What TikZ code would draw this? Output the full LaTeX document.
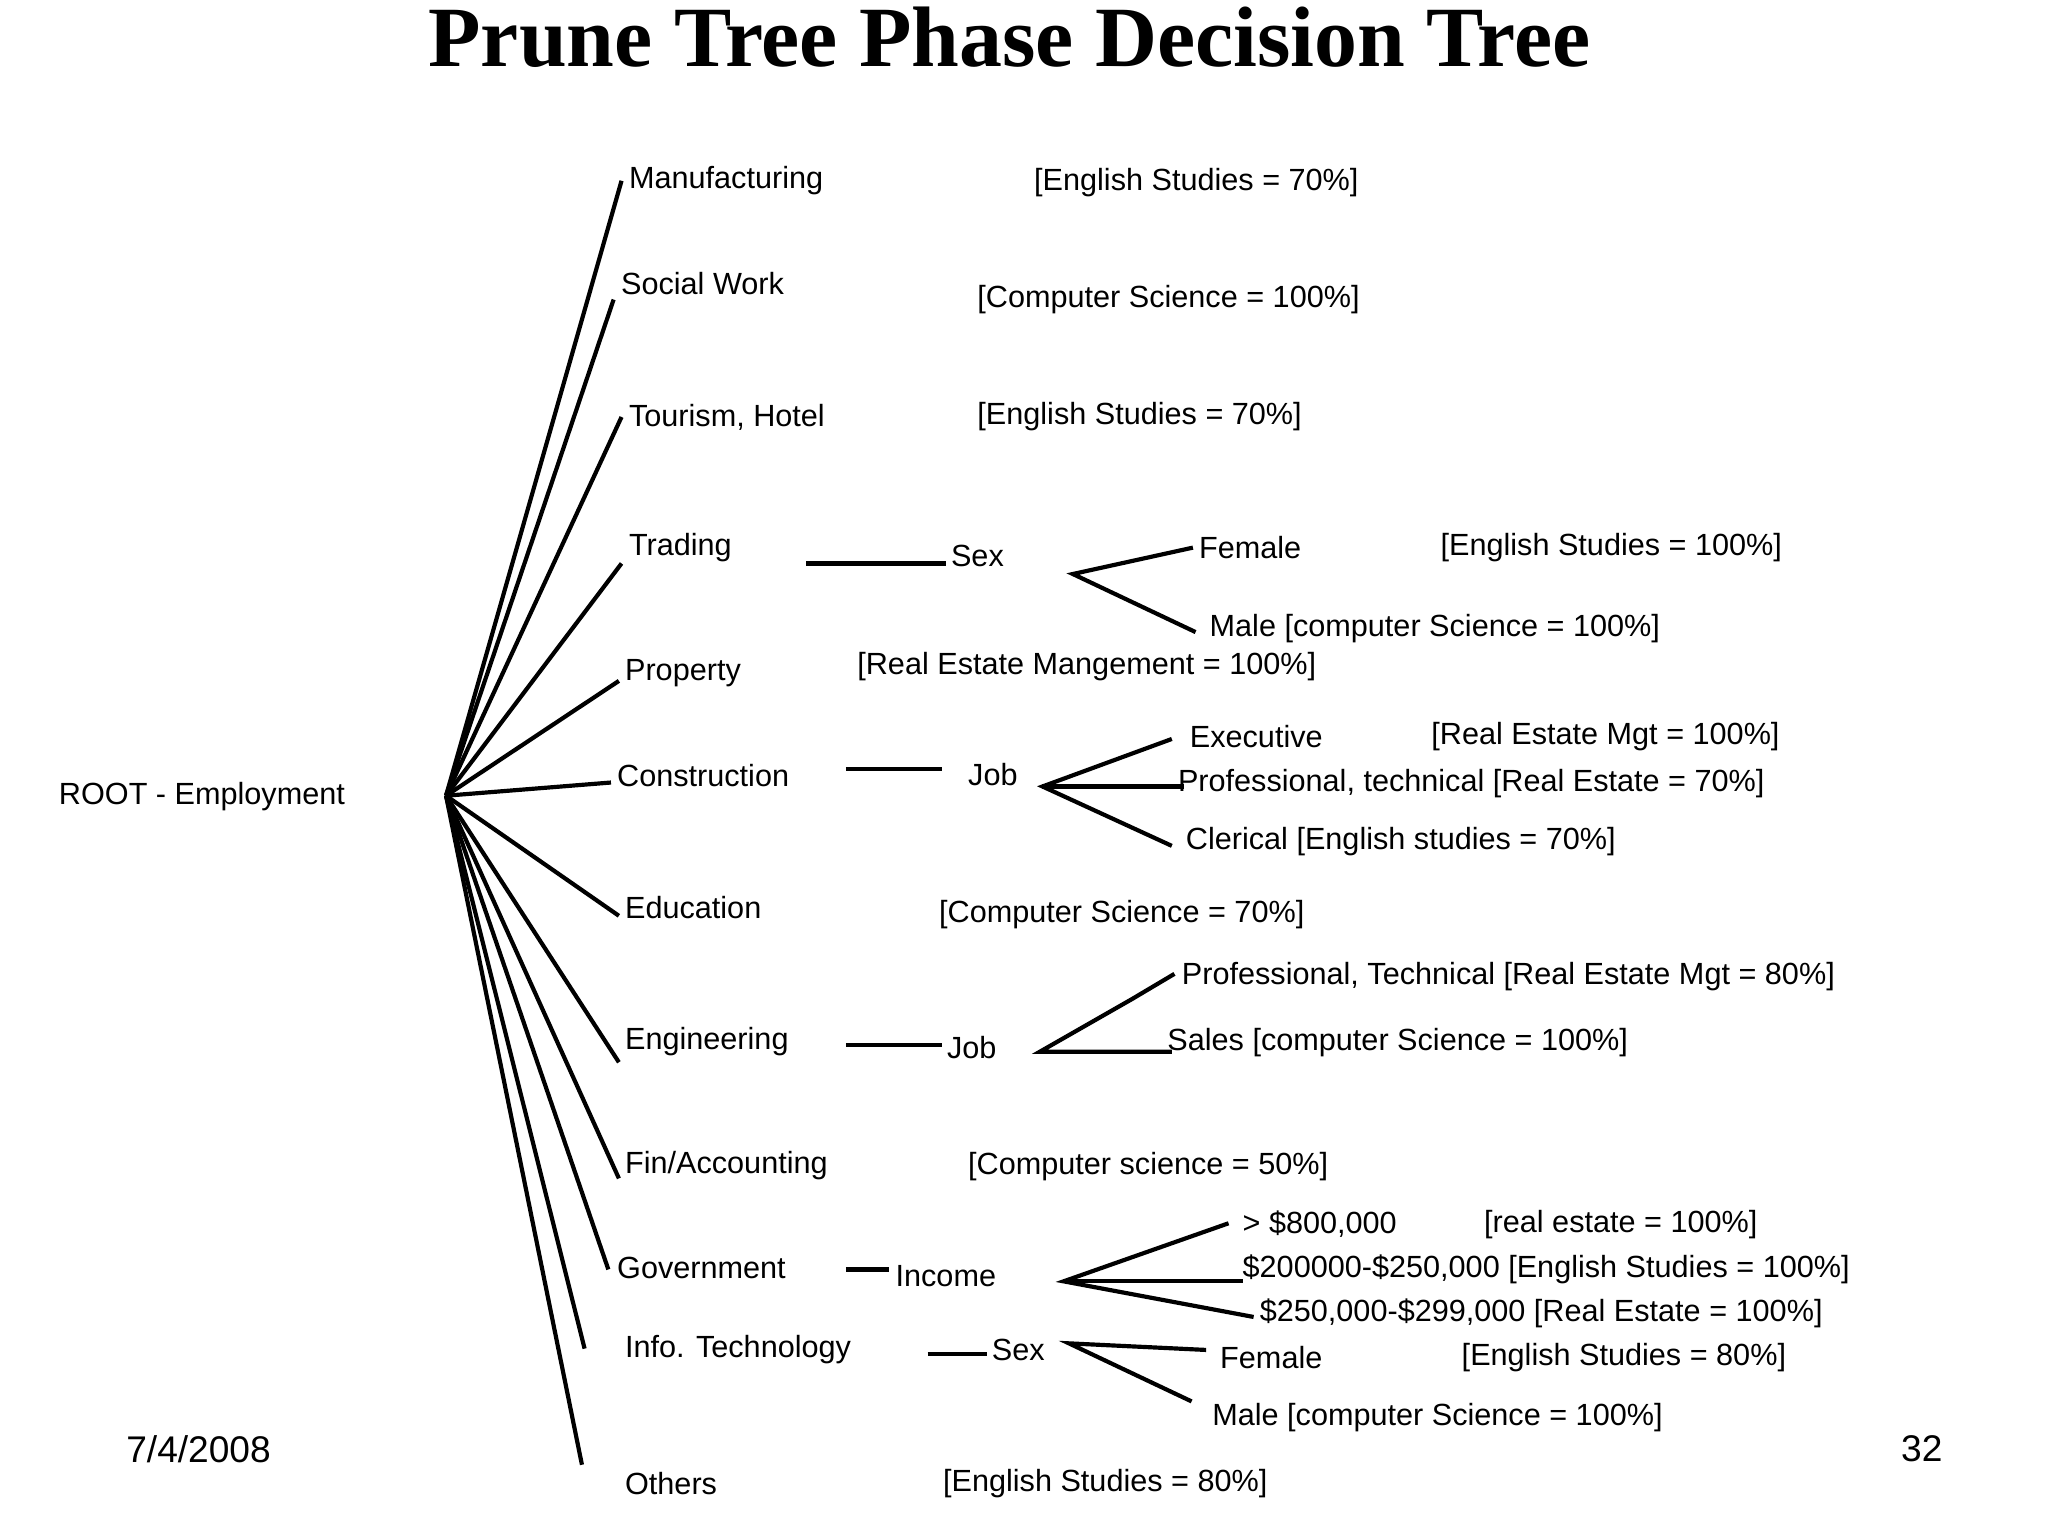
\documentclass[tikz,border=0pt]{standalone}
\usepackage{fontspec}
\setmainfont{Liberation Sans}
\newfontfamily\titlefont{Liberation Serif}
\begin{document}
\begin{tikzpicture}[x=0.01cm,y=-0.01cm,
  t/.style={anchor=west,inner sep=0pt,font=\fontsize{6.6}{7}\selectfont},
  ln/.style={line width=0.9pt}]
\useasboundingbox (0,0) rectangle (1552,1164);
\node[font=\titlefont\bfseries\fontsize{18.5}{20}\selectfont] (title) at (765,28) {Prune Tree Phase Decision Tree};
\node[t] (root) at (44,604) {ROOT - Employment};
\coordinate (r) at (338,603);
\foreach \n/\x/\y in {m/471/137,s/465/227,tu/471/316,tr/471/427,p/469/516,c/463/593,e/469/694,en/469/805,f/469/893,g/461/962,i/443/1022,o/441/1110}
  {\coordinate (\n) at (\x,\y); \draw[ln] (r) -- (\n);}
\node[t] (nm) at (476,137) {Manufacturing};
\node[t] at (783,138) {[English Studies = 70\%]};
\node[t] at (470,215) {Social Work};
\node[t] at (740,227) {[Computer Science = 100\%]};
\node[t] at (476,316) {Tourism, Hotel};
\node[t] at (740,316) {[English Studies = 70\%]};
% Trading
\node[t] at (476,415) {Trading};
\coordinate (tra) at (611,427); \coordinate (trb) at (717,427);
\draw[ln] (tra) -- (trb);
\node[t] at (720,421) {Sex};
\coordinate (sx) at (813,435); \coordinate (sx1) at (904,415); \coordinate (sx2) at (906,479);
\draw[ln] (sx1) -- (sx) -- (sx2);
\node[t] at (908,415) {Female};
\node[t] at (1091,415) {[English Studies = 100\%]};
\node[t] at (916,476) {Male [computer Science = 100\%]};
\node[t] at (473,510) {Property};
\node[t] at (649,505) {[Real Estate Mangement = 100\%]};
% Construction
\node[t] at (467,588) {Construction};
\coordinate (ca) at (641,583); \coordinate (cb) at (714,583);
\draw[ln] (ca) -- (cb);
\node[t] at (733,587) {Job};
\coordinate (j) at (790,596); \coordinate (j1) at (888,560); \coordinate (j2) at (897,596); \coordinate (j3) at (888,641);
\draw[ln] (j1) -- (j) -- (j3); \draw[ln] (j) -- (j2);
\node[t] at (901,558) {Executive};
\node[t] at (1084,558) {[Real Estate Mgt = 100\%]};
\node[t] at (892,594) {Professional, technical [Real Estate = 70\%]};
\node[t] at (898,638) {Clerical [English studies = 70\%]};
\node[t] at (473,688) {Education};
\node[t] at (711,693) {[Computer Science = 70\%]};
% Engineering
\node[t] at (473,789) {Engineering};
\coordinate (ea) at (641,792); \coordinate (eb) at (714,792);
\draw[ln] (ea) -- (eb);
\node[t] at (717,794) {Job};
\coordinate (k) at (788,797); \coordinate (km) at (858,757); \coordinate (k1) at (890,738); \coordinate (k2) at (888,797);
\draw[ln] (k1) -- (km) -- (k) -- (k2);
\node[t] at (895,740) {Professional, Technical [Real Estate Mgt = 80\%]};
\node[t] at (884,790) {Sales [computer Science = 100\%]};
\node[t] at (473,883) {Fin/Accounting};
\node[t] at (733,884) {[Computer science = 50\%]};
% Government
\node[t] at (467,961) {Government};
\coordinate (ga) at (641,962); \coordinate (gb) at (674,962);
\draw[ln] (ga) -- (gb);
\node[t] at (678,967) {Income};
\coordinate (in) at (806,971); \coordinate (in1) at (931,927); \coordinate (in2) at (942,971); \coordinate (in3) at (950,998);
\draw[ln] (in1) -- (in) -- (in3); \draw[ln] (in) -- (in2);
\node[t] at (941,928) {> \$800,000};
\node[t] at (1124,928) {[real estate = 100\%]};
\node[t] at (941,962) {\$200000-\$250,000 [English Studies = 100\%]};
\node[t] at (954,995) {\$250,000-\$299,000 [Real Estate = 100\%]};
% Info
\node[t] at (473,1023) {Info. Technology};
\coordinate (ia) at (703,1026); \coordinate (ib) at (748,1026);
\draw[ln] (ia) -- (ib);
\node[t] at (751,1023) {Sex};
\coordinate (is) at (810,1018); \coordinate (is1) at (914,1023); \coordinate (is2) at (903,1062);
\draw[ln] (is1) -- (is) -- (is2);
\node[t] at (924,1029) {Female};
\node[t] at (1107,1029) {[English Studies = 80\%]};
\node[t] at (918,1074) {Male [computer Science = 100\%]};
\node[t] at (473,1124) {Others};
\node[t] at (714,1124) {[English Studies = 80\%]};
\node[t,font=\fontsize{8}{9}\selectfont] (date) at (95,1098) {7/4/2008};
\node[t,font=\fontsize{8}{9}\selectfont] (pg) at (1440,1098) {32};
\end{tikzpicture}
\end{document}
